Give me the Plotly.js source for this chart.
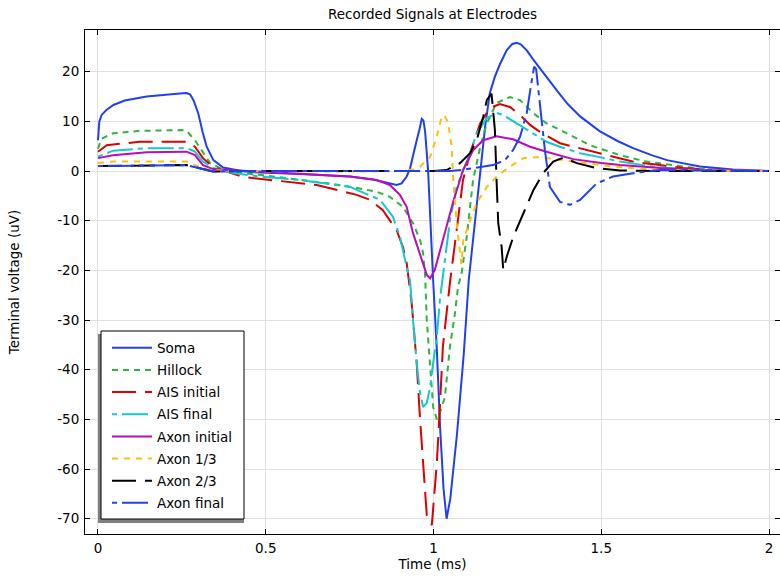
<!DOCTYPE html>
<html>
<head>
<meta charset="utf-8">
<script src="https://cdn.plot.ly/plotly-3.0.1.min.js"></script>
<style>html,body{margin:0;padding:0;background:#fff}#chart{width:780px;height:577px}</style>
</head>
<body>
<div id="chart"></div>
<script>
// ---- data (time in ms, voltage in uV) ----
var seriesNames = ["Soma", "Hillock", "AIS initial", "AIS final", "Axon initial", "Axon 1/3", "Axon 2/3", "Axon final"];

var somaT = [0, 0.004, 0.011, 0.025, 0.046, 0.08, 0.145, 0.2, 0.244, 0.264, 0.275, 0.285, 0.299, 0.312, 0.324, 0.344, 0.373, 0.42, 0.453, 0.6, 0.75, 0.82, 0.87, 0.89, 0.905, 0.92, 0.93, 0.94, 0.95, 0.958, 0.965, 0.97, 0.975, 0.984, 0.99, 0.999, 1.01, 1.02, 1.03, 1.039, 1.05, 1.07, 1.09, 1.105, 1.124, 1.139, 1.154, 1.168, 1.183, 1.198, 1.218, 1.235, 1.248, 1.26, 1.278, 1.297, 1.33, 1.368, 1.4, 1.437, 1.496, 1.55, 1.595, 1.65, 1.696, 1.794, 1.893, 2.0];
var somaV = [6.2, 10, 11.3, 12.3, 13.3, 14.2, 15.0, 15.4, 15.6, 15.7, 15.4, 14.2, 11.6, 7.8, 4.9, 2.2, 0.7, 0.1, -0.2, -0.6, -1.1, -1.7, -2.5, -2.8, -2.5, -1.1, 0.5, 3.6, 6.2, 8.3, 10.5, 10.2, 8, 0, -10, -22, -36, -52, -64, -70, -66, -53, -37, -22, -10, 0, 9, 15.7, 19, 21.5, 24.3, 25.6, 25.8, 25.5, 24.3, 22.5, 19.5, 16.2, 13.5, 11, 8.0, 6, 4.6, 3.2, 2.2, 0.9, 0.3, 0];

var hillockT = [0, 0.01, 0.045, 0.125, 0.25, 0.264, 0.289, 0.313, 0.334, 0.364, 0.4, 0.5, 0.6, 0.7, 0.78, 0.832, 0.87, 0.909, 0.939, 0.96, 0.969, 0.975, 0.98, 0.99, 0.999, 1.01, 1.019, 1.034, 1.049, 1.064, 1.073, 1.084, 1.099, 1.118, 1.139, 1.159, 1.188, 1.228, 1.258, 1.297, 1.337, 1.377, 1.397, 1.466, 1.556, 1.635, 1.744, 1.845, 2.0];
var hillockV = [4.5, 6.5, 7.6, 8.1, 8.25, 8.1, 6.2, 3.6, 1.6, 0.6, -0.2, -0.9, -1.7, -2.6, -3.5, -4.2, -5.2, -7.2, -10.5, -13.9, -16.5, -21, -30, -39, -47.5, -50, -48.7, -45.5, -35.4, -28.6, -23.4, -20.5, -13.3, -1.8, 4.8, 9.6, 13.7, 14.9, 14.3, 11.7, 9.6, 8.3, 7.6, 5.2, 3.2, 1.9, 0.9, 0.1, 0];

var aisInitT = [0, 0.026, 0.125, 0.264, 0.289, 0.313, 0.343, 0.432, 0.473, 0.602, 0.652, 0.771, 0.811, 0.849, 0.89, 0.909, 0.92, 0.935, 0.95, 0.96, 0.969, 0.975, 0.98, 0.995, 1.01, 1.019, 1.028, 1.039, 1.049, 1.069, 1.088, 1.109, 1.139, 1.168, 1.198, 1.228, 1.258, 1.288, 1.317, 1.377, 1.437, 1.535, 1.6, 1.675, 1.744, 1.893, 2.0];
var aisInitV = [3.9, 5.2, 5.9, 5.9, 4.9, 2.6, 0.8, -1.2, -1.5, -2.5, -2.8, -4.8, -5.8, -7.9, -11.9, -15.3, -18.5, -26.6, -38.7, -50, -58.8, -66, -69.3, -71.3, -58.8, -47.5, -35.4, -28.6, -22.5, -11.9, -1.8, 3.6, 9.6, 12.7, 13.5, 12.9, 11.3, 9.3, 7.9, 5.6, 4.6, 2.9, 1.8, 1.2, 0.6, 0.06, 0];

var aisFinalT = [0, 0.045, 0.145, 0.264, 0.289, 0.313, 0.343, 0.402, 0.483, 0.602, 0.751, 0.841, 0.879, 0.9, 0.92, 0.93, 0.939, 0.95, 0.96, 0.969, 0.98, 0.99, 0.999, 1.01, 1.019, 1.024, 1.028, 1.049, 1.069, 1.109, 1.129, 1.159, 1.188, 1.207, 1.248, 1.288, 1.337, 1.377, 1.437, 1.496, 1.556, 1.654, 1.75, 1.9, 2.0];
var aisFinalV = [2.9, 4.1, 4.6, 4.6, 3.9, 1.9, 0.6, -0.4, -1.1, -1.8, -3.2, -5.8, -9.2, -13.2, -19.3, -22, -30, -38.7, -44.7, -47.5, -46.7, -43.5, -38.7, -33.4, -26, -23.4, -21.3, -9.9, -3.2, 3.6, 7.6, 10.7, 11.7, 11.3, 9.6, 7.9, 5.9, 4.9, 3.6, 2.8, 1.9, 0.9, 0.3, 0.05, 0];

var axonInitT = [0, 0.045, 0.145, 0.264, 0.289, 0.313, 0.343, 0.483, 0.55, 0.652, 0.751, 0.831, 0.87, 0.9, 0.92, 0.939, 0.96, 0.98, 0.99, 1.004, 1.028, 1.058, 1.088, 1.118, 1.148, 1.188, 1.237, 1.288, 1.337, 1.416, 1.5, 1.556, 1.675, 1.8, 2.0];
var axonInitV = [2.6, 3.2, 3.8, 3.9, 3.2, 1.2, 0.4, -0.1, -0.4, -0.8, -1.1, -1.8, -2.8, -4.8, -7.2, -12.5, -17, -20.9, -21.6, -19.9, -13.9, -6.4, 0.2, 4.2, 6.2, 7.0, 6.4, 4.9, 3.9, 2.4, 1.6, 1.2, 0.6, 0.2, 0];

var axon13T = [0, 0.045, 0.145, 0.264, 0.3, 0.334, 0.4, 0.6, 0.8, 0.9, 0.94, 0.96, 0.98, 0.99, 1.01, 1.024, 1.033, 1.044, 1.054, 1.059, 1.069, 1.079, 1.083, 1.089, 1.109, 1.129, 1.159, 1.188, 1.228, 1.267, 1.308, 1.356, 1.416, 1.535, 1.675, 2.0];
var axon13V = [1.6, 1.9, 1.9, 1.9, 0.9, 0.2, 0, -0.1, -0.1, 0, 0.3, 0.9, 2.2, 2.9, 6.9, 10.9, 11.2, 9.6, 4.9, -1.8, -10.5, -17.3, -18.7, -13.9, -9.9, -6.4, -3.2, -1.1, 0.9, 2.6, 2.8, 2.5, 1.9, 0.9, 0.2, 0];

var axon23T = [0, 0.264, 0.3, 0.343, 0.45, 0.6, 0.8, 0.95, 1.0, 1.039, 1.079, 1.109, 1.129, 1.148, 1.159, 1.173, 1.183, 1.188, 1.193, 1.203, 1.208, 1.218, 1.238, 1.268, 1.298, 1.327, 1.357, 1.387, 1.427, 1.486, 1.556, 1.7, 2.0];
var axon23V = [1.0, 1.2, 0.6, -0.1, 0, 0, 0, 0, 0, 0.2, 1.6, 3.6, 6.2, 10.9, 14.3, 15.6, 8.3, -1.8, -10.5, -15.2, -19.9, -17.3, -13.2, -8.5, -3.8, -0.4, 1.9, 2.7, 1.6, 0.6, 0.1, 0, 0];

var axonFinalT = [0, 0.264, 0.3, 0.343, 0.45, 0.6, 0.8, 0.95, 1.0, 1.05, 1.084, 1.139, 1.177, 1.213, 1.237, 1.258, 1.278, 1.29, 1.3, 1.306, 1.312, 1.322, 1.332, 1.347, 1.377, 1.407, 1.437, 1.486, 1.535, 1.606, 1.675, 1.8, 2.0];
var axonFinalV = [1.0, 1.2, 0.6, -0.1, 0, 0, 0, 0, 0, 0, 0.2, 0.8, 1.2, 2.2, 4.2, 6.9, 11.7, 17, 21, 20.5, 17, 10.3, 4.2, -3.2, -6.2, -6.8, -5.8, -2.5, -1.1, -0.3, 0.2, 0.1, 0];

var xTickVals = [0, 0.5, 1, 1.5, 2];
var xTickText = ["0", "0.5", "1", "1.5", "2"];
var yTickVals = [-70, -60, -50, -40, -30, -20, -10, 0, 10, 20];
var yTickText = ["-70", "-60", "-50", "-40", "-30", "-20", "-10", "0", "10", "20"];

// ---- styles ----
var styles = [
  {color: "#2040f0", dash: "solid"},
  {color: "#2db53c", dash: "6px,5px"},
  {color: "#dd0000", dash: "24px,9px"},
  {color: "#11c9cf", dash: "5px,5px,26px,5px"},
  {color: "#bb0bbb", dash: "solid"},
  {color: "#ffbe0a", dash: "6px,6px"},
  {color: "#000000", dash: "24px,9px"},
  {color: "#2040f0", dash: "5px,5px,26px,5px"}
];
var xs = [somaT, hillockT, aisInitT, aisFinalT, axonInitT, axon13T, axon23T, axonFinalT];
var ys = [somaV, hillockV, aisInitV, aisFinalV, axonInitV, axon13V, axon23V, axonFinalV];

var traces = seriesNames.map(function (n, i) {
  return {
    type: "scatter", mode: "lines", name: n, x: xs[i], y: ys[i],
    legendgroup: "g" + i,
    line: {color: styles[i].color, width: 2, dash: styles[i].dash}
  };
});

var font = "DejaVu Sans, sans-serif";
var layout = {
  width: 780, height: 577,
  margin: {l: 85, r: 0, t: 30, b: 43},
  paper_bgcolor: "#ffffff", plot_bgcolor: "#ffffff",
  font: {family: font, size: 13.5, color: "#000"},
  title: {text: "Recorded Signals at Electrodes", font: {family: font, size: 13.5, color: "#000"}, x: 0.5, xref: "paper", xanchor: "center", y: 1 - 14 / 577, yanchor: "middle"},
  xaxis: {
    range: [-0.0387, 2.0328], tickvals: xTickVals, ticktext: xTickText,
    showline: true, linecolor: "#000", linewidth: 1, mirror: "allticks",
    ticks: "inside", ticklen: 5, tickcolor: "#000",
    showgrid: true, gridcolor: "#e1e1e1", zeroline: false,
    tickfont: {family: font, size: 13.5}, ticklabelstandoff: 2,
    title: {text: "Time (ms)", font: {family: font, size: 13.5}, standoff: 4}
  },
  yaxis: {
    range: [-73.08, 28.4], tickvals: yTickVals, ticktext: yTickText,
    showline: true, linecolor: "#000", linewidth: 1, mirror: "allticks",
    ticks: "inside", ticklen: 5, tickcolor: "#000",
    showgrid: true, gridcolor: "#e1e1e1", zeroline: false,
    tickfont: {family: font, size: 13.5}, ticklabelstandoff: 2,
    title: {text: "Terminal voltage (uV)", font: {family: font, size: 13.5}, standoff: 34}
  },
  showlegend: true,
  legend: {
    x: (107 - 85) / 695, xanchor: "left", y: (534 - 332.5) / 504, yanchor: "top",
    bgcolor: "rgba(0,0,0,0)", borderwidth: 0,
    font: {family: font, size: 13.5, color: "#000"},
    itemwidth: 40, tracegroupgap: 1.6, traceorder: "grouped"
  },
  shapes: [
    {type: "rect", xref: "paper", yref: "paper", layer: "above",
     x0: (98 - 85) / 695, x1: (244 - 85) / 695, y0: (534 - 523) / 504, y1: (534 - 334) / 504,
     fillcolor: "#808080", line: {width: 0}},
    {type: "rect", xref: "paper", yref: "paper", layer: "above",
     x0: (101 - 85) / 695, x1: (244 - 85) / 695, y0: (534 - 519) / 504, y1: (534 - 331) / 504,
     fillcolor: "#ffffff", line: {color: "#000", width: 1}}
  ]
};

Plotly.newPlot("chart", traces, layout, {displayModeBar: false, staticPlot: true});
</script>
</body>
</html>
